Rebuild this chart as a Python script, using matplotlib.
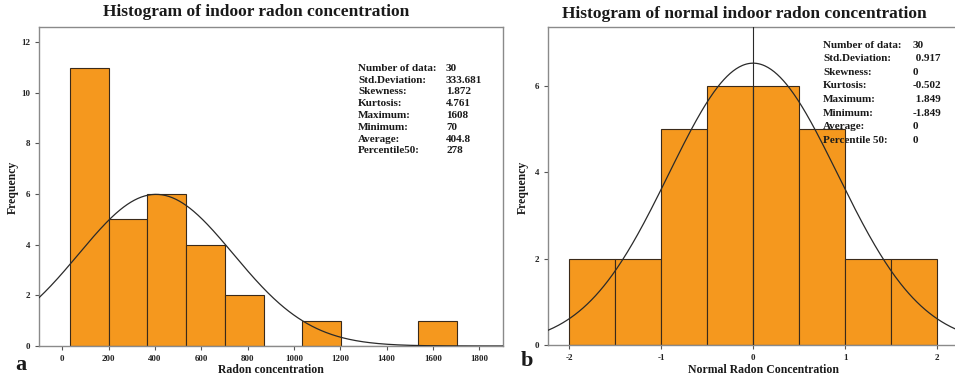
import matplotlib
matplotlib.use('Agg')
import matplotlib.pyplot as plt
import numpy as np

# ------------------------------------------------------------
# data
# ------------------------------------------------------------
# panel a: raw indoor radon concentration
RAW_EDGES = [35, 202, 368, 535, 702, 869, 1036, 1202, 1369, 1536, 1702]
RAW_COUNTS = [11, 5, 6, 4, 2, 0, 1, 0, 0, 1]
RAW_MEAN = 404.8
RAW_SD = 333.681
RAW_LABELS = ["Number of data:", "Std.Deviation:", "Skewness:", "Kurtosis:",
              "Maximum:", "Minimum:", "Average:", "Percentile50:"]
RAW_VALUES = ["30", "333.681", "1.872", "4.761", "1608", "70", "404.8", "278"]

# panel b: normalised concentration
NORM_EDGES = [-2.0, -1.5, -1.0, -0.5, 0.0, 0.5, 1.0, 1.5, 2.0]
NORM_COUNTS = [2, 2, 5, 6, 6, 5, 2, 2]
NORM_MEAN = 0.0
NORM_SD = 0.917
NORM_LABELS = ["Number of data:", "Std.Deviation:", "Skewness:", "Kurtosis:",
               "Maximum:", "Minimum:", "Average:", "Percentile 50:"]
NORM_VALUES = ["30", " 0.917", "0", "-0.502", " 1.849", "-1.849", "0", "0"]

N_TOTAL = 30

# ------------------------------------------------------------
# style
# ------------------------------------------------------------
plt.rcParams.update({
    'font.family': ['Liberation Serif', 'DejaVu Serif'],
    'font.weight': 'bold',
    'axes.unicode_minus': False,
    'axes.edgecolor': '#8a8a8a',
    'axes.linewidth': 1.0,
    'xtick.color': '#555555',
    'ytick.color': '#555555',
    'xtick.labelcolor': '#222222',
    'ytick.labelcolor': '#222222',
    'xtick.major.size': 3,
    'ytick.major.size': 3,
    'xtick.labelsize': 6.5,
    'ytick.labelsize': 6.5,
})

BAR_COLOR = '#F5981E'
EDGE_COLOR = '#3a2a1a'
TXT = '#1a1a1a'

W, H = 955, 380
fig = plt.figure(figsize=(W / 100, H / 100), dpi=100)


def px_axes(x0, y0, x1, y1):
    # axes rectangle given in pixel coordinates measured from the top-left
    return fig.add_axes([x0 / W, 1 - y1 / H, (x1 - x0) / W, (y1 - y0) / H])


def px_text(x, y, s, **kw):
    # figure text placed by pixel position from the top-left
    kw.setdefault('fontweight', 'bold')
    kw.setdefault('color', TXT)
    kw.setdefault('ha', 'center')
    kw.setdefault('va', 'center')
    return fig.text(x / W, 1 - y / H, s, **kw)


def draw_hist(ax, edges, counts, mean, sd, xlim, ylim):
    edges = np.asarray(edges, dtype=float)
    widths = np.diff(edges)
    ax.bar(edges[:-1], counts, width=widths, align='edge',
           color=BAR_COLOR, edgecolor=EDGE_COLOR, linewidth=0.8, zorder=2)
    # fitted normal curve scaled to counts per bin
    xs = np.linspace(xlim[0], xlim[1], 400)
    scale = N_TOTAL * widths[0]
    ys = scale * np.exp(-0.5 * ((xs - mean) / sd) ** 2) / (sd * np.sqrt(2 * np.pi))
    ax.plot(xs, ys, color='#2a2a2a', linewidth=0.9, zorder=3)
    ax.set_xlim(*xlim)
    ax.set_ylim(*ylim)


def stats_block(labels, values, x_lab, x_val, y0, dy):
    for i, (lab, val) in enumerate(zip(labels, values)):
        y = y0 + i * dy
        px_text(x_lab, y, lab, fontsize=8, ha='left', zorder=5)
        px_text(x_val, y, val, fontsize=8, ha='left', zorder=5)


# ---------------- panel a ----------------
ax1 = px_axes(39, 27, 502.5, 346)
draw_hist(ax1, RAW_EDGES, RAW_COUNTS, RAW_MEAN, RAW_SD, (-100, 1900), (0, 12.6))
ax1.set_xticks(np.arange(0, 1801, 200))
ax1.set_yticks(np.arange(0, 13, 2))
px_text(271, 370, "Radon concentration", fontsize=8.5)
px_text(13, 187, "Frequency", fontsize=8.5, rotation=90)
px_text(256, 12, "Histogram of indoor radon concentration", fontsize=12.5)
px_text(21, 365, "a", fontsize=16)
stats_block(RAW_LABELS, RAW_VALUES, 358, 446, 68.5, 11.75)

# ---------------- panel b ----------------
ax2 = px_axes(548.3, 26.7, 958, 345)
draw_hist(ax2, NORM_EDGES, NORM_COUNTS, NORM_MEAN, NORM_SD,
          (-2.225, 2.225), (0, 7.37))
ax2.axvline(NORM_MEAN, color='#2a2a2a', linewidth=0.8, zorder=4)
ax2.set_xticks([-2, -1, 0, 1, 2])
ax2.set_yticks([0, 2, 4, 6])
px_text(763, 370, "Normal Radon Concentration", fontsize=8.5)
px_text(523, 187, "Frequency", fontsize=8.5, rotation=90)
px_text(744, 14, "Histogram of normal indoor radon concentration", fontsize=12.5)
px_text(527, 361, "b", fontsize=16)
stats_block(NORM_LABELS, NORM_VALUES, 823, 913, 45, 13.6)

for ax in (ax1, ax2):
    for lab in ax.get_xticklabels() + ax.get_yticklabels():
        lab.set_fontweight('bold')

fig.savefig("out.png", dpi=100, facecolor='white')
plt.close(fig)
